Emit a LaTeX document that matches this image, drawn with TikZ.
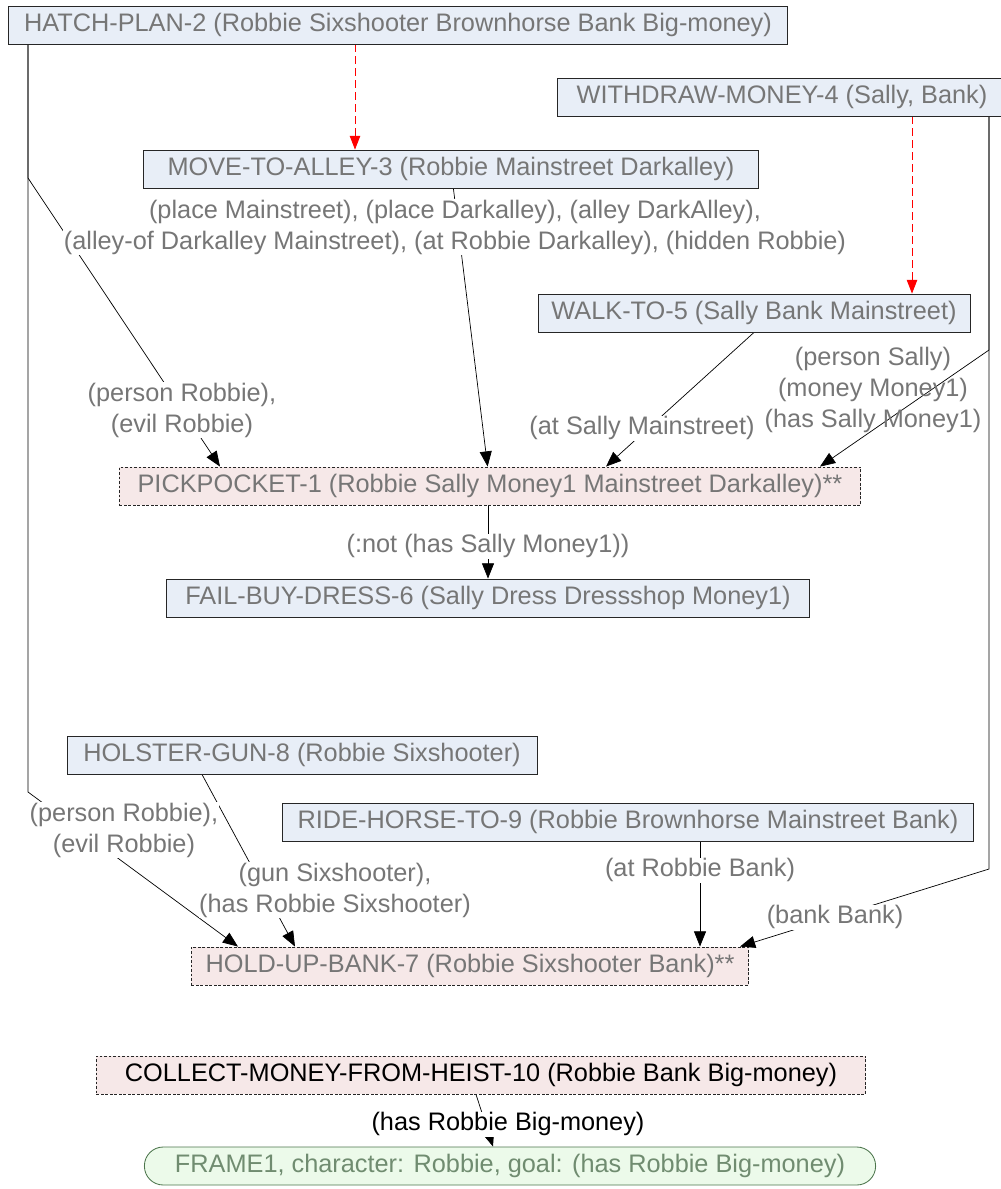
\documentclass[tikz,border=0pt]{standalone}
\usepackage{fontspec}
\setmainfont{Liberation Sans}
\usepackage{tikz}
\usetikzlibrary{arrows.meta, positioning}
\definecolor{stepfill}{RGB}{232,238,247}
\definecolor{flawfill}{RGB}{246,232,232}
\definecolor{framefill}{RGB}{236,250,234}
\definecolor{condgray}{RGB}{118,118,118}
\definecolor{framegreen}{RGB}{112,140,112}
\pgfdeclarelayer{background}
\pgfsetlayers{background,main}
\tikzset{
    action/.style={rectangle, draw=black!85, line width=0.6pt, fill=stepfill, text=condgray, minimum height=0.95cm, inner xsep=4pt, inner ysep=0pt, text centered},
    flaw/.style={action, fill=flawfill, dash pattern=on 2pt off 1.2pt},
    goal/.style={rectangle, rounded corners=0.47cm, draw=black!60!green!40!gray, line width=0.6pt, fill=framefill, text=framegreen, minimum height=0.95cm, inner xsep=4pt, text centered},
    cond/.style={text=condgray, align=center, fill=white, inner sep=0.5pt},
    link/.style={line width=0.5pt, -{Triangle[length=0.38cm, width=0.3cm]}},
    planlink/.style={red, line width=0.6pt, dash pattern=on 0.2cm off 0.1cm, -{Triangle[length=0.34cm, width=0.26cm]}}
}

\begin{document}
\begin{tikzpicture}[x=0.025cm, y=-0.025cm,
    every node/.style={font=\fontsize{18}{22}\selectfont}
]
    \useasboundingbox (0,0) rectangle (1000,1189);

    % Plan steps
    \node[action, minimum width=19.45cm] (hatch) at (398,25) {HATCH-PLAN-2 (Robbie Sixshooter Brownhorse Bank Big-money)};
    \node[action, minimum width=15.375cm] (move) at (451,169) {MOVE-TO-ALLEY-3 (Robbie Mainstreet Darkalley)};
    \node[action, minimum width=11.25cm] (withdraw) at (782,97) {WITHDRAW-MONEY-4 (Sally, Bank)};
    \node[action, minimum width=10.8cm] (walk) at (754,313) {WALK-TO-5 (Sally Bank Mainstreet)};
    \node[flaw, minimum width=18.525cm] (pick) at (490,486) {PICKPOCKET-1 (Robbie Sally Money1 Mainstreet Darkalley)**};
    \node[action, minimum width=16.075cm] (fail) at (488,598) {FAIL-BUY-DRESS-6 (Sally Dress Dressshop Money1)};
    \node[action, minimum width=11.75cm] (holster) at (302,755) {HOLSTER-GUN-8 (Robbie Sixshooter)};
    \node[action, minimum width=17.275cm] (ride) at (628,822) {RIDE-HORSE-TO-9 (Robbie Brownhorse Mainstreet Bank)};
    \node[flaw, minimum width=13.925cm] (hold) at (470,966) {HOLD-UP-BANK-7 (Robbie Sixshooter Bank)**};
    \node[flaw, text=black, minimum width=19.225cm] (collect) at (481,1075) {COLLECT-MONEY-FROM-HEIST-10 (Robbie Bank Big-money)};
    \node[goal, minimum width=18.275cm] (frame) at (510,1166) {FRAME1, character: Robbie, goal: (has Robbie Big-money)};

    % Conditions
    \node[cond] (movecond) at (455,227) {(place Mainstreet), (place Darkalley), (alley DarkAlley),\\(alley-of Darkalley Mainstreet), (at Robbie Darkalley), (hidden Robbie)};
    \node[cond] (evilA) at (182,410) {(person Robbie),\\(evil Robbie)};
    \node[cond] (atsally) at (642,428) {(at Sally Mainstreet)};
    \node[cond, fill=none] (sallycond) at (873,390) {(person Sally)\\(money Money1)\\(has Sally Money1)};
    \node[cond] (notmoney) at (488,546) {(:not (has Sally Money1))};
    \node[cond] (evilB) at (124,830) {(person Robbie),\\(evil Robbie)};
    \node[cond] (guncond) at (335,890) {(gun Sixshooter),\\(has Robbie Sixshooter)};
    \node[cond] (atbank) at (700,870) {(at Robbie Bank)};
    \node[cond] (bankcond) at (835,917) {(bank Bank)};
    \node[cond, text=black] (bigmoney) at (508,1124) {(has Robbie Big-money)};

    % Bends and ends
    \coordinate (hatchx) at (28,0);
    \coordinate (hbend1) at (28,178);
    \coordinate (hbend2) at (28,792);
    \coordinate (withx) at (989,0);
    \coordinate (wbend1) at (989,350);
    \coordinate (wbend2) at (989,869);
    \coordinate (planA) at (355,0);
    \coordinate (planB) at (912,0);
    \coordinate (pickA) at (220,0);
    \coordinate (pickC) at (606,0);
    \coordinate (pickD) at (820,0);
    \coordinate (holsterx) at (202,0);
    \coordinate (holdA) at (238,0);
    \coordinate (holdB) at (295,0);
    \coordinate (holdD) at (740,0);
    \coordinate (collectx) at (476,0);
    \coordinate (framex) at (493,0);

    \begin{pgfonlayer}{background}
    % Plan order
    \draw[planlink] (hatch.south -| planA) -- (move.north -| planA);
    \draw[planlink] (withdraw.south -| planB) -- (walk.north -| planB);

    % Causal links into PICKPOCKET-1
    \draw[link] (hatch.south -| hatchx) -- (hbend1) -- (pick.north -| pickA);
    \draw[link] (move) -- (pick);
    \draw[link] (walk.south) -- (pick.north -| pickC);
    \draw[link] (withdraw.south -| withx) -- (wbend1) -- (pick.north -| pickD);
    \draw[link] (pick.south -| notmoney) -- (fail.north -| notmoney);

    % Causal links into HOLD-UP-BANK-7
    \draw[link] (hatch.south -| hatchx) -- (hbend2) -- (hold.north -| holdA);
    \draw[link] (holster.south -| holsterx) -- (hold.north -| holdB);
    \draw[link] (ride.south -| atbank) -- (hold.north -| atbank);
    \draw[link] (withdraw.south -| withx) -- (wbend2) -- (hold.north -| holdD);

    % Goal
    \draw[link] (collect.south -| collectx) -- (frame.north -| framex);
    \end{pgfonlayer}
\end{tikzpicture}
\end{document}
